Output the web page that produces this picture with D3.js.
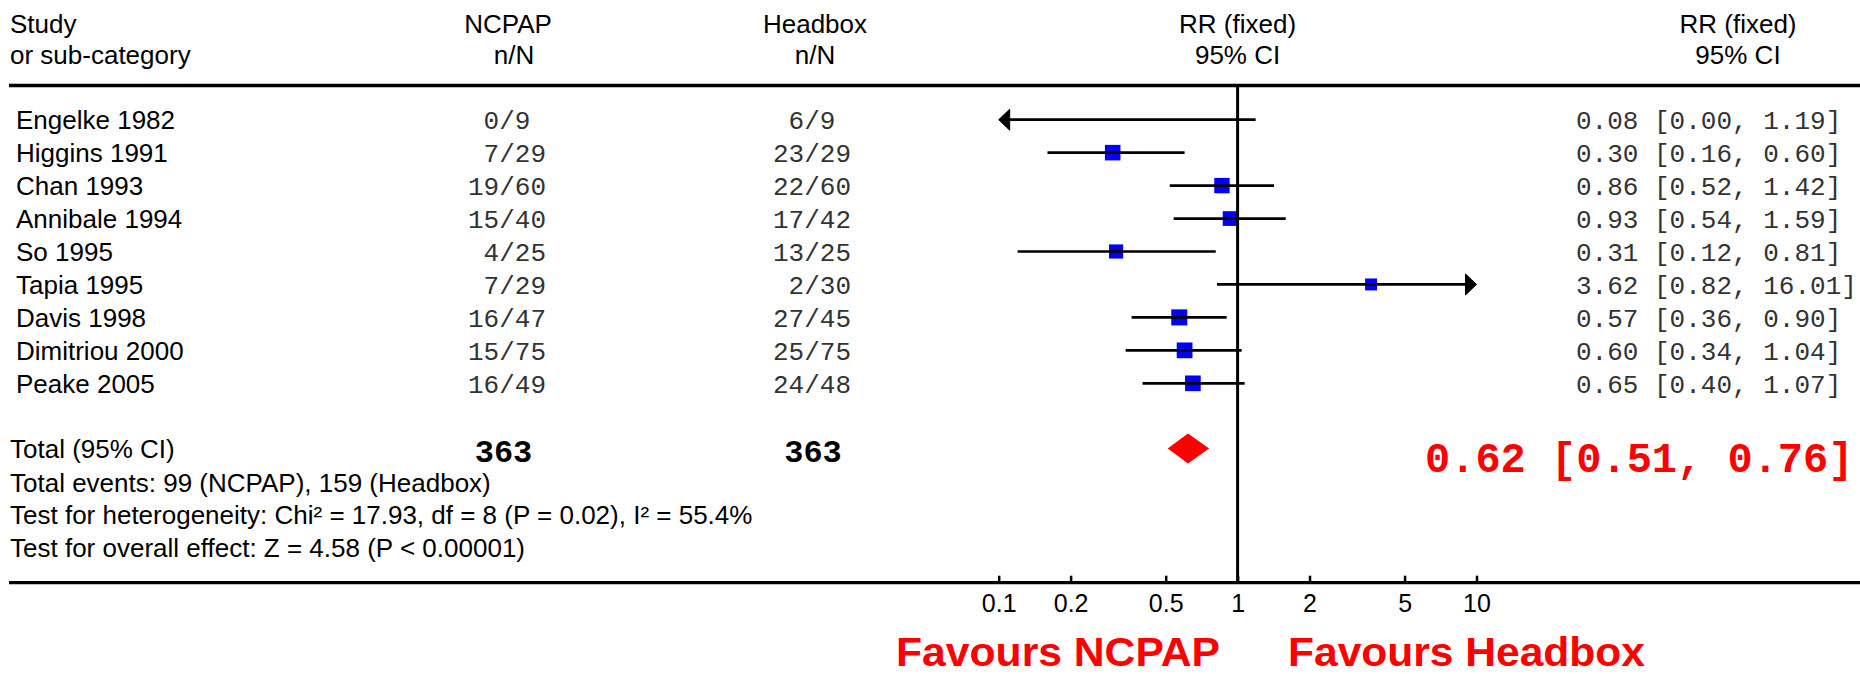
<!DOCTYPE html>
<html>
<head>
<meta charset="utf-8">
<script src="https://cdn.jsdelivr.net/npm/d3@7/dist/d3.min.js"></script>
<style>
  html, body { margin: 0; padding: 0; background: #ffffff; }
  svg { display: block; }
  .sans { font-family: "Liberation Sans", Arial, sans-serif; }
  .mono { font-family: "Liberation Mono", "Courier New", monospace; white-space: pre; }
</style>
</head>
<body>
<svg id="forest" width="1860" height="674"></svg>
<script>
// Studies and their raw counts
const studies = ["Engelke 1982", "Higgins 1991", "Chan 1993", "Annibale 1994", "So 1995",
                 "Tapia 1995", "Davis 1998", "Dimitriou 2000", "Peake 2005"];
const ncpapEvents   = [0, 7, 19, 15, 4, 7, 16, 15, 16];
const ncpapTotal    = [9, 29, 60, 40, 25, 29, 47, 75, 49];
const headboxEvents = [6, 23, 22, 17, 13, 2, 27, 25, 24];
const headboxTotal  = [9, 29, 60, 42, 25, 30, 45, 75, 48];

// Risk ratios with 95% confidence limits
const rr     = [0.08, 0.30, 0.86, 0.93, 0.31, 3.62, 0.57, 0.60, 0.65];
const ciLow  = [0.00, 0.16, 0.52, 0.54, 0.12, 0.82, 0.36, 0.34, 0.40];
const ciHigh = [1.19, 0.60, 1.42, 1.59, 0.81, 16.01, 0.90, 1.04, 1.07];
// Approximate study weights (%), used for the square sizes
const weights = [3.8, 14.5, 13.8, 10.5, 8.2, 1.8, 17.3, 15.7, 15.1];

// Pooled fixed-effect estimate
const pooledRR = 0.62, pooledLow = 0.51, pooledHigh = 0.76;

// Axis ticks
const tickValues = [0.1, 0.2, 0.5, 1, 2, 5, 10];
const tickLabels = ["0.1", "0.2", "0.5", "1", "2", "5", "10"];

const heterogeneity = "Test for heterogeneity: Chi\u00B2 = 17.93, df = 8 (P = 0.02), I\u00B2 = 55.4%";
const overallEffect = "Test for overall effect: Z = 4.58 (P < 0.00001)";

const svg = d3.select("#forest");
const W = 1860;

const x = d3.scaleLog().domain([0.1, 10]).range([998.7, 1476.5]);
const y = d3.scalePoint().domain(studies).range([119.7, 383.3]);
const side = d3.scaleSqrt().domain([0, 20]).range([10, 16.5]);

const fmt = d3.format(".2f");
const colN = 468, colH = 773;        // left edge of the n/N columns
const totalY = 448.5, axisY = 582.7;
const monoFill = "#333";

// ---- header ----
const head = svg.append("g").attr("class", "sans").attr("font-size", 26).attr("fill", "#000");
head.append("text").attr("x", 10).attr("y", 33).text("Study");
head.append("text").attr("x", 10).attr("y", 63.5).text("or sub-category");
[[508, "NCPAP"], [815, "Headbox"], [x(1), "RR (fixed)"], [1738, "RR (fixed)"]].forEach(([cx, t]) =>
  head.append("text").attr("x", cx).attr("y", 33).attr("text-anchor", "middle").text(t));
[[514, "n/N"], [815, "n/N"], [x(1), "95% CI"], [1738, "95% CI"]].forEach(([cx, t]) =>
  head.append("text").attr("x", cx).attr("y", 63.5).attr("text-anchor", "middle").text(t));

svg.append("line").attr("x1", 9).attr("x2", W).attr("y1", 85.5).attr("y2", 85.5)
  .attr("stroke", "#000").attr("stroke-width", 3.5);

// ---- study rows ----
const rows = svg.append("g");
studies.forEach((s, i) => {
  const yy = y(s), base = yy + 9.6;
  rows.append("text").attr("class", "sans").attr("font-size", 26)
    .attr("x", 16).attr("y", base).text(s);
  rows.append("text").attr("class", "mono").attr("font-size", 26).attr("fill", monoFill)
    .attr("x", colN).attr("y", base)
    .text(String(ncpapEvents[i]).padStart(2, " ") + "/" + ncpapTotal[i]);
  rows.append("text").attr("class", "mono").attr("font-size", 26).attr("fill", monoFill)
    .attr("x", colH).attr("y", base)
    .text(String(headboxEvents[i]).padStart(2, " ") + "/" + headboxTotal[i]);
  rows.append("text").attr("class", "mono").attr("font-size", 26).attr("fill", monoFill)
    .attr("x", 1576).attr("y", base)
    .text(fmt(rr[i]) + " [" + fmt(ciLow[i]) + ", " + fmt(ciHigh[i]) + "]");
});

// ---- confidence intervals, squares, arrows ----
const [dMin, dMax] = x.domain();
const ci = svg.append("g");
const arrowLen = 11, arrowHalf = 10.5;
studies.forEach((s, i) => {
  const yy = y(s);
  const lo = Math.max(ciLow[i], dMin), hi = Math.min(ciHigh[i], dMax);
  const x0 = x(lo) + (ciLow[i] < dMin ? arrowLen - 1 : 0);
  const x1 = x(hi) - (ciHigh[i] > dMax ? arrowLen - 1 : 0);
  ci.append("line").attr("x1", x0).attr("x2", x1).attr("y1", yy).attr("y2", yy)
    .attr("stroke", "#000").attr("stroke-width", 2.7);
  if (ciLow[i] < dMin) {
    const t = x(dMin);
    ci.append("path").attr("fill", "#000").attr("stroke", "#000").attr("stroke-width", 1)
      .attr("stroke-linejoin", "round")
      .attr("d", `M${t},${yy}L${t + arrowLen},${yy - arrowHalf}L${t + arrowLen},${yy + arrowHalf}Z`);
  }
  if (ciHigh[i] > dMax) {
    const t = x(dMax);
    ci.append("path").attr("fill", "#000").attr("stroke", "#000").attr("stroke-width", 1)
      .attr("stroke-linejoin", "round")
      .attr("d", `M${t},${yy}L${t - arrowLen},${yy - arrowHalf}L${t - arrowLen},${yy + arrowHalf}Z`);
  }
});

// vertical line of no effect
svg.append("line").attr("x1", x(1)).attr("x2", x(1)).attr("y1", 86).attr("y2", axisY)
  .attr("stroke", "#000").attr("stroke-width", 3);

// squares on top of the lines
studies.forEach((s, i) => {
  if (rr[i] < dMin || rr[i] > dMax) return;
  const sz = side(weights[i]);
  ci.append("rect").attr("x", x(rr[i]) - sz / 2).attr("y", y(s) - sz / 2)
    .attr("width", sz).attr("height", sz).attr("fill", "#0000ff");
  ci.append("line").attr("x1", x(rr[i]) - sz / 2).attr("x2", x(rr[i]) + sz / 2)
    .attr("y1", y(s)).attr("y2", y(s)).attr("stroke", "#000").attr("stroke-width", 2.7);
});

// ---- total row ----
const foot = svg.append("g").attr("class", "sans").attr("font-size", 26);
foot.append("text").attr("x", 10).attr("y", 458).text("Total (95% CI)");
svg.append("text").attr("class", "mono").attr("font-size", 32).attr("font-weight", "bold")
  .attr("x", 503.5).attr("y", 461.7).attr("text-anchor", "middle").text(d3.sum(ncpapTotal));
svg.append("text").attr("class", "mono").attr("font-size", 32).attr("font-weight", "bold")
  .attr("x", 813).attr("y", 461.7).attr("text-anchor", "middle").text(d3.sum(headboxTotal));

svg.append("path").attr("fill", "#ff0000")
  .attr("d", `M${x(pooledLow)},${totalY}L${x(pooledRR)},${totalY - 15}L${x(pooledHigh)},${totalY}L${x(pooledRR)},${totalY + 15}Z`);

svg.append("text").attr("class", "mono").attr("font-size", 42).attr("font-weight", "bold")
  .attr("fill", "#ff0000").attr("x", 1425).attr("y", 471.5)
  .text(fmt(pooledRR) + " [" + fmt(pooledLow) + ", " + fmt(pooledHigh) + "]");

foot.append("text").attr("x", 10).attr("y", 491.7)
  .text(`Total events: ${d3.sum(ncpapEvents)} (NCPAP), ${d3.sum(headboxEvents)} (Headbox)`);
foot.append("text").attr("x", 10).attr("y", 524.3).text(heterogeneity);
foot.append("text").attr("x", 10).attr("y", 557).text(overallEffect);

// ---- axis ----
svg.append("line").attr("x1", 9).attr("x2", W).attr("y1", axisY).attr("y2", axisY)
  .attr("stroke", "#000").attr("stroke-width", 3.3);

const axis = d3.axisBottom(x).tickValues(tickValues)
  .tickFormat((d, i) => tickLabels[i]).tickSizeInner(-7).tickSizeOuter(0).tickPadding(12);
const ag = svg.append("g").attr("transform", `translate(0,${axisY})`).call(axis);
ag.select(".domain").remove();
ag.selectAll(".tick line").attr("stroke", "#000").attr("stroke-width", 2.5);
ag.selectAll(".tick text").attr("font-family", "Liberation Sans, Arial, sans-serif")
  .attr("font-size", 25).attr("fill", "#000");

// ---- favours labels ----
svg.append("text").attr("class", "sans").attr("font-size", 41).attr("font-weight", "bold")
  .attr("fill", "#ff0000").attr("x", 896).attr("y", 666)
  .attr("textLength", 324).attr("lengthAdjust", "spacingAndGlyphs")
  .text("Favours NCPAP");
svg.append("text").attr("class", "sans").attr("font-size", 41).attr("font-weight", "bold")
  .attr("fill", "#ff0000").attr("x", 1288).attr("y", 666)
  .attr("textLength", 357).attr("lengthAdjust", "spacingAndGlyphs")
  .text("Favours Headbox");
</script>
</body>
</html>
